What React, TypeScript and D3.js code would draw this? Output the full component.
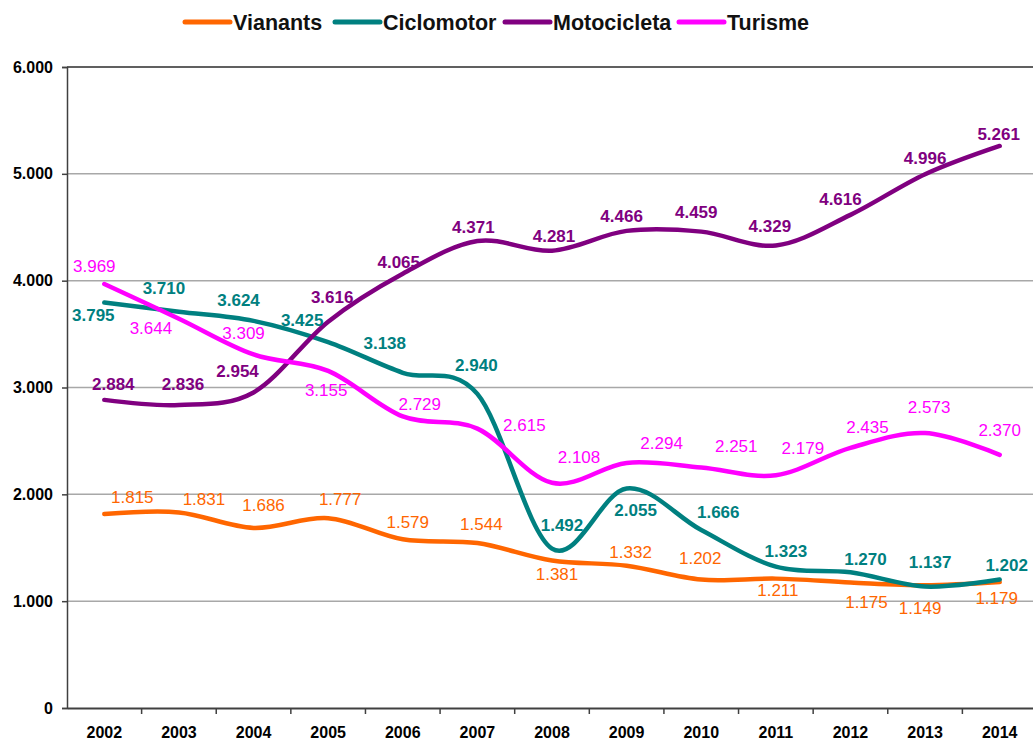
import * as React from 'react';
import * as d3 from 'd3';

const years = ['2002', '2003', '2004', '2005', '2006', '2007', '2008', '2009', '2010', '2011', '2012', '2013', '2014'];
const vianants = [1815, 1831, 1686, 1777, 1579, 1544, 1381, 1332, 1202, 1211, 1175, 1149, 1179];
const ciclomotor = [3795, 3710, 3624, 3425, 3138, 2940, 1492, 2055, 1666, 1323, 1270, 1137, 1202];
const motocicleta = [2884, 2836, 2954, 3616, 4065, 4371, 4281, 4466, 4459, 4329, 4616, 4996, 5261];
const turisme = [3969, 3644, 3309, 3155, 2729, 2615, 2108, 2294, 2251, 2179, 2435, 2573, 2370];
const yTicks = [0, 1000, 2000, 3000, 4000, 5000, 6000];

// label nudges (dx, dy) from each point
const vianantsLabelPos = [[28, -17], [25, -14], [10, -23], [12, -19], [5, -17], [4, -19], [5, 13], [4, -14], [-1, -22], [2, 11], [16, 19], [-5, 23], [-3, 16]];
const ciclomotorLabelPos = [[-11, 12], [-15, -24], [-15, -21], [-26, -22], [-18, -30], [-1, -29], [10, -24], [9, 21], [17, -18], [10, -16], [15, -13], [5, -25], [7, -15]];
const motocicletaLabelPos = [[9, -16], [4, -21], [-16, -22], [4, -25], [-4, -12], [-4, -14], [2, -15], [-5, -15], [-5, -20], [-6, -20], [-10, -16], [0, -16], [-1, -12]];
const turismeLabelPos = [[-10, -18], [-28, 9], [-10, -22], [-2, 19], [17, -13], [47, -4], [27, -26], [35, -20], [35, -22], [27, -27], [17, -21], [4, -26], [0, -25]];

const series = [
  { name: 'Vianants', values: vianants, color: '#ff6600', labels: vianantsLabelPos, weight: 'normal', size: 17 },
  { name: 'Ciclomotor', values: ciclomotor, color: '#008080', labels: ciclomotorLabelPos, weight: 'bold', size: 17 },
  { name: 'Motocicleta', values: motocicleta, color: '#800080', labels: motocicletaLabelPos, weight: 'bold', size: 17 },
  { name: 'Turisme', values: turisme, color: '#ff00ff', labels: turismeLabelPos, weight: 'normal', size: 17 },
];

const W = 1033;
const H = 740;
const FONT = '"Liberation Sans", Arial, sans-serif';

const fmt = d3.formatLocale({ decimal: ',', thousands: '.', grouping: [3], currency: ['', ''] }).format(',d');

export default function App() {
  const ref = React.useRef<SVGSVGElement>(null);

  React.useEffect(() => {
    const el = ref.current;
    if (!el) { return; }
    el.innerHTML = '';
    const svg = d3.select(el);

    const x = d3.scaleBand().domain(years).range([67, 1037]);
    const y = d3.scaleLinear().domain([0, 6000]).range([708, 67]);
    const cx = (i: number) => x(years[i])! + x.bandwidth() / 2;

    // gridlines
    svg.append('g')
      .selectAll('line')
      .data(yTicks.filter(t => t > 0))
      .enter().append('line')
        .attr('x1', 67).attr('x2', W)
        .attr('y1', d => y(d)).attr('y2', d => y(d))
        .attr('stroke', d => d === 6000 ? '#606060' : '#a8a8a8')
        .attr('stroke-width', d => d === 6000 ? 2 : 1.5);

    // y axis
    const yAxis = svg.append('g')
      .attr('transform', 'translate(67,0)')
      .call(d3.axisLeft(y).tickValues(yTicks).tickSize(5).tickPadding(9).tickFormat(d => fmt(d as number)));
    yAxis.select('.domain').attr('stroke', '#404040').attr('stroke-width', 1.5);
    yAxis.selectAll('.tick line').attr('stroke', '#404040').attr('stroke-width', 1.5);
    yAxis.selectAll('text')
      .attr('font-family', FONT).attr('font-size', 16).attr('font-weight', 'bold').attr('fill', '#000');

    // x axis
    const xAxis = svg.append('g')
      .attr('transform', 'translate(0,708)')
      .call(d3.axisBottom(x).tickSize(0).tickPadding(19));
    xAxis.select('.domain').attr('stroke', '#404040').attr('stroke-width', 2);
    xAxis.selectAll('text')
      .attr('font-family', FONT).attr('font-size', 16).attr('font-weight', 'bold').attr('fill', '#000');
    svg.append('g')
      .selectAll('line')
      .data(years.slice(1))
      .enter().append('line')
        .attr('x1', d => x(d)!).attr('x2', d => x(d)!)
        .attr('y1', 708).attr('y2', 714)
        .attr('stroke', '#404040').attr('stroke-width', 1.5);

    // lines
    const line = d3.line<number>()
      .x((_, i) => cx(i))
      .y(d => y(d))
      .curve(d3.curveCardinal.tension(0));

    svg.append('g')
      .selectAll('path')
      .data(series)
      .enter().append('path')
        .attr('d', d => line(d.values))
        .attr('fill', 'none')
        .attr('stroke', d => d.color)
        .attr('stroke-width', 4.5)
        .attr('stroke-linecap', 'round')
        .attr('stroke-linejoin', 'round');

    // data labels
    series.forEach(s => {
      svg.append('g')
        .selectAll('text')
        .data(s.values)
        .enter().append('text')
          .attr('x', (_, i) => cx(i) + s.labels[i][0])
          .attr('y', (d, i) => y(d) + s.labels[i][1])
          .attr('dy', '0.36em')
          .attr('text-anchor', 'middle')
          .attr('font-family', FONT)
          .attr('font-size', s.size)
          .attr('font-weight', s.weight)
          .attr('fill', s.color)
          .text(d => fmt(d));
    });

    // legend
    const legendX = [183, 333, 503, 677];
    const legend = svg.append('g')
      .selectAll('g')
      .data(series)
      .enter().append('g')
        .attr('transform', (_, i) => `translate(${legendX[i]},22)`);
    legend.append('line')
      .attr('x1', 2).attr('x2', 47)
      .attr('stroke', d => d.color)
      .attr('stroke-width', 5)
      .attr('stroke-linecap', 'round');
    legend.append('text')
      .attr('x', 50)
      .attr('dy', '0.36em')
      .attr('font-family', FONT)
      .attr('font-size', 21.5)
      .attr('font-weight', 'bold')
      .attr('fill', '#111')
      .text(d => d.name);
  }, []);

  return (
    <svg ref={ref} width={W} height={H}
      style={{ position: 'absolute', left: 0, top: 0, background: '#fff' }} />
  );
}
